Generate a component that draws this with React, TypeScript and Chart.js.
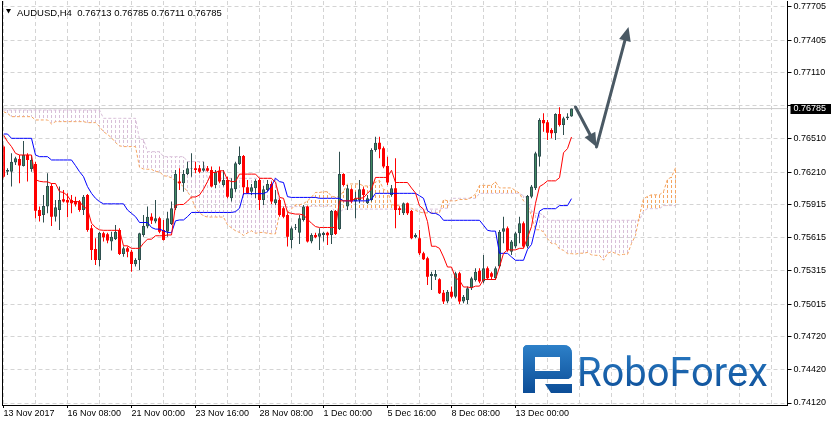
import React, { useEffect, useRef } from 'react';
import { Chart, registerables } from 'chart.js';

Chart.register(...registerables);

// ---------- data (AUDUSD H4) ----------
const OPEN = [
  0.76441, 0.76214, 0.76214, 0.76296, 0.76329, 0.76266, 0.76365, 0.76239, 0.76284, 0.75867,
  0.75822, 0.75898, 0.76085, 0.75807, 0.75867, 0.75964, 0.75958, 0.75958, 0.75949, 0.75943,
  0.75867, 0.76003, 0.75702, 0.75515, 0.75415, 0.75656, 0.75647, 0.75581, 0.75602, 0.75687,
  0.75469, 0.75521, 0.75490, 0.75376, 0.75415, 0.75641, 0.75717, 0.75807, 0.75762, 0.75792,
  0.75687, 0.75671, 0.75741, 0.75883, 0.76124, 0.76109, 0.76193, 0.76243, 0.76245, 0.76245,
  0.76223, 0.76245, 0.76229, 0.76094, 0.76223, 0.76094, 0.76139, 0.75973, 0.76055, 0.76284,
  0.76356, 0.76073, 0.76033, 0.76064, 0.76139, 0.75958, 0.76048, 0.76103, 0.75928, 0.75958,
  0.75883, 0.75822, 0.75596, 0.75705, 0.75662, 0.75777, 0.75898, 0.75581, 0.75641, 0.75626,
  0.75641, 0.75662, 0.75641, 0.75858, 0.75693, 0.76193, 0.75898, 0.76055, 0.75943, 0.75958,
  0.76055, 0.75928, 0.75958, 0.76410, 0.76477, 0.76426, 0.76266, 0.76003, 0.76064, 0.75883,
  0.75837, 0.75928, 0.75858, 0.75620, 0.75611, 0.75475, 0.75430, 0.75270, 0.75264, 0.75240,
  0.75119, 0.75038, 0.75128, 0.75083, 0.75294, 0.75038, 0.75053, 0.75159, 0.75234, 0.75318,
  0.75219, 0.75340, 0.75294, 0.75249, 0.75355, 0.75671, 0.75702, 0.75490, 0.75536, 0.75656,
  0.75747, 0.75536, 0.75988, 0.76064, 0.76350, 0.76682, 0.76661, 0.76591, 0.76561, 0.76736,
  0.76637, 0.76697, 0.76713,
];
const HIGH = [
  0.76456, 0.76245, 0.76380, 0.76350, 0.76365, 0.76492, 0.76380, 0.76365, 0.76305, 0.75898,
  0.76003, 0.76199, 0.76109, 0.75958, 0.76079, 0.76048, 0.76018, 0.76003, 0.75988, 0.75958,
  0.76003, 0.76012, 0.75732, 0.75611, 0.75671, 0.75671, 0.75662, 0.75671, 0.75732, 0.75702,
  0.75536, 0.75536, 0.75506, 0.75430, 0.75662, 0.75822, 0.75898, 0.75837, 0.75958, 0.75807,
  0.75777, 0.75852, 0.75943, 0.76229, 0.76245, 0.76229, 0.76305, 0.76380, 0.76305, 0.76275,
  0.76305, 0.76266, 0.76260, 0.76229, 0.76260, 0.76229, 0.76169, 0.76154, 0.76305, 0.76441,
  0.76365, 0.76139, 0.76103, 0.76145, 0.76154, 0.76085, 0.76139, 0.76124, 0.76048, 0.75973,
  0.75898, 0.75837, 0.75717, 0.75741, 0.75822, 0.75913, 0.75904, 0.75656, 0.75662, 0.75702,
  0.75671, 0.75671, 0.75867, 0.75867, 0.76395, 0.76199, 0.76094, 0.76064, 0.76033, 0.76139,
  0.76073, 0.76003, 0.76426, 0.76531, 0.76531, 0.76441, 0.76350, 0.76094, 0.76335, 0.75898,
  0.75934, 0.75934, 0.75867, 0.75656, 0.75687, 0.75490, 0.75445, 0.75309, 0.75325, 0.75249,
  0.75144, 0.75144, 0.75174, 0.75309, 0.75309, 0.75098, 0.75174, 0.75264, 0.75340, 0.75340,
  0.75460, 0.75355, 0.75309, 0.75355, 0.75687, 0.75807, 0.75717, 0.75596, 0.75671, 0.75807,
  0.75762, 0.76003, 0.76094, 0.76395, 0.76697, 0.76742, 0.76682, 0.76607, 0.76742, 0.76797,
  0.76712, 0.76742, 0.76785,
];
const LOW = [
  0.76154, 0.76184, 0.76079, 0.76275, 0.76109, 0.76260, 0.76124, 0.76214, 0.75792, 0.75762,
  0.75753, 0.75837, 0.75723, 0.75762, 0.75687, 0.75934, 0.75801, 0.75837, 0.75898, 0.75852,
  0.75822, 0.75671, 0.75415, 0.75370, 0.75355, 0.75581, 0.75566, 0.75500, 0.75596, 0.75460,
  0.75445, 0.75439, 0.75309, 0.75355, 0.75325, 0.75626, 0.75702, 0.75741, 0.75747, 0.75656,
  0.75590, 0.75626, 0.75732, 0.75867, 0.76048, 0.76033, 0.76184, 0.76169, 0.76199, 0.76199,
  0.76214, 0.76214, 0.76073, 0.76064, 0.76109, 0.76079, 0.75973, 0.75943, 0.76033, 0.76275,
  0.76003, 0.76012, 0.76003, 0.75973, 0.75867, 0.75913, 0.76033, 0.75922, 0.75913, 0.75807,
  0.75792, 0.75536, 0.75521, 0.75687, 0.75560, 0.75762, 0.75572, 0.75566, 0.75611, 0.75506,
  0.75581, 0.75551, 0.75560, 0.75641, 0.75687, 0.76079, 0.75867, 0.75928, 0.75792, 0.75928,
  0.75958, 0.75922, 0.75943, 0.76395, 0.76335, 0.76245, 0.76094, 0.75988, 0.75702, 0.75822,
  0.75822, 0.75822, 0.75602, 0.75611, 0.75460, 0.75415, 0.75189, 0.75144, 0.75234, 0.75107,
  0.75017, 0.75023, 0.75068, 0.75068, 0.75017, 0.75023, 0.75017, 0.75144, 0.75219, 0.75204,
  0.75204, 0.75234, 0.75234, 0.75234, 0.75340, 0.75566, 0.75490, 0.75460, 0.75521, 0.75566,
  0.75521, 0.75521, 0.75973, 0.76048, 0.76260, 0.76576, 0.76501, 0.76516, 0.76501, 0.76622,
  0.76546, 0.76682, 0.76711,
];
const CLOSE = [
  0.76169, 0.76229, 0.76305, 0.76335, 0.76269, 0.76365, 0.76320, 0.76320, 0.75861, 0.75813,
  0.75904, 0.76085, 0.75807, 0.75892, 0.75958, 0.75943, 0.75934, 0.75928, 0.75919, 0.75867,
  0.75988, 0.75687, 0.75506, 0.75415, 0.75662, 0.75620, 0.75590, 0.75626, 0.75671, 0.75469,
  0.75521, 0.75490, 0.75379, 0.75415, 0.75656, 0.75723, 0.75807, 0.75771, 0.75792, 0.75671,
  0.75596, 0.75792, 0.75883, 0.76193, 0.76109, 0.76193, 0.76245, 0.76247, 0.76229, 0.76214,
  0.76245, 0.76223, 0.76079, 0.76214, 0.76124, 0.76139, 0.75988, 0.76064, 0.76290, 0.76356,
  0.76073, 0.76018, 0.76073, 0.76133, 0.75958, 0.76055, 0.76103, 0.75943, 0.75964, 0.75822,
  0.75807, 0.75626, 0.75702, 0.75711, 0.75792, 0.75898, 0.75581, 0.75641, 0.75620, 0.75656,
  0.75662, 0.75638, 0.75858, 0.75650, 0.76193, 0.76094, 0.76064, 0.75943, 0.75973, 0.76055,
  0.76003, 0.75973, 0.76410, 0.76477, 0.76416, 0.76260, 0.76115, 0.76064, 0.75867, 0.75867,
  0.75928, 0.75837, 0.75611, 0.75641, 0.75475, 0.75421, 0.75264, 0.75288, 0.75288, 0.75113,
  0.75038, 0.75128, 0.75083, 0.75294, 0.75038, 0.75083, 0.75159, 0.75249, 0.75309, 0.75219,
  0.75340, 0.75249, 0.75264, 0.75340, 0.75671, 0.75702, 0.75506, 0.75581, 0.75656, 0.75747,
  0.75536, 0.75994, 0.76079, 0.76380, 0.76682, 0.76652, 0.76567, 0.76561, 0.76736, 0.76637,
  0.76697, 0.76713, 0.76785,
];
const TENKAN = [
  0.76546, 0.76486, 0.76441, 0.76380, 0.76365, 0.76365, 0.76365, 0.76365, 0.76142, 0.76127,
  0.76122, 0.76122, 0.76107, 0.76107, 0.76033, 0.76026, 0.75996, 0.75943, 0.75943, 0.75943,
  0.75898, 0.75875, 0.75747, 0.75709, 0.75687, 0.75683, 0.75683, 0.75683, 0.75683, 0.75683,
  0.75543, 0.75543, 0.75520, 0.75520, 0.75520, 0.75566, 0.75603, 0.75603, 0.75634, 0.75634,
  0.75634, 0.75641, 0.75641, 0.75910, 0.75917, 0.75917, 0.75947, 0.75985, 0.75985, 0.76003,
  0.76056, 0.76124, 0.76207, 0.76207, 0.76222, 0.76222, 0.76139, 0.76124, 0.76124, 0.76192,
  0.76192, 0.76192, 0.76192, 0.76192, 0.76154, 0.76154, 0.76154, 0.76154, 0.76116, 0.75981,
  0.75973, 0.75845, 0.75837, 0.75830, 0.75830, 0.75822, 0.75784, 0.75747, 0.75717, 0.75709,
  0.75709, 0.75709, 0.75709, 0.75709, 0.75950, 0.75950, 0.75950, 0.75950, 0.75973, 0.75973,
  0.75978, 0.76018, 0.76056, 0.76162, 0.76162, 0.76162, 0.76162, 0.76227, 0.76116, 0.76116,
  0.76116, 0.76116, 0.76066, 0.76021, 0.75905, 0.75875, 0.75762, 0.75539, 0.75539, 0.75520,
  0.75442, 0.75351, 0.75351, 0.75253, 0.75231, 0.75170, 0.75170, 0.75163, 0.75178, 0.75178,
  0.75238, 0.75238, 0.75238, 0.75238, 0.75351, 0.75475, 0.75506, 0.75506, 0.75506, 0.75520,
  0.75520, 0.75618, 0.75717, 0.75928, 0.76079, 0.76101, 0.76131, 0.76131, 0.76131, 0.76159,
  0.76385, 0.76423, 0.76528,
];
const KIJUN = [
  0.76555, 0.76555, 0.76516, 0.76516, 0.76516, 0.76516, 0.76516, 0.76516, 0.76365, 0.76350,
  0.76350, 0.76350, 0.76320, 0.76320, 0.76320, 0.76320, 0.76320, 0.76320, 0.76269, 0.76214,
  0.76169, 0.76079, 0.76018, 0.75973, 0.75943, 0.75923, 0.75923, 0.75923, 0.75923, 0.75923,
  0.75923, 0.75867, 0.75837, 0.75807, 0.75754, 0.75754, 0.75754, 0.75709, 0.75694, 0.75694,
  0.75679, 0.75664, 0.75661, 0.75769, 0.75777, 0.75777, 0.75807, 0.75845, 0.75845, 0.75845,
  0.75845, 0.75845, 0.75845, 0.75845, 0.75845, 0.75845, 0.75845, 0.75845, 0.75852, 0.75883,
  0.76015, 0.76015, 0.76015, 0.76015, 0.76015, 0.76015, 0.76033, 0.76086, 0.76154, 0.76124,
  0.76116, 0.75988, 0.75981, 0.75981, 0.75981, 0.75981, 0.75981, 0.75981, 0.75981, 0.75973,
  0.75973, 0.75973, 0.75973, 0.75973, 0.75973, 0.75950, 0.75950, 0.75950, 0.75950, 0.75950,
  0.75950, 0.75950, 0.75965, 0.76018, 0.76018, 0.76018, 0.76018, 0.76018, 0.76018, 0.76018,
  0.76018, 0.76018, 0.76018, 0.76018, 0.75996, 0.75973, 0.75860, 0.75837, 0.75837, 0.75819,
  0.75774, 0.75774, 0.75774, 0.75774, 0.75774, 0.75774, 0.75774, 0.75774, 0.75774, 0.75774,
  0.75729, 0.75683, 0.75676, 0.75676, 0.75475, 0.75475, 0.75475, 0.75442, 0.75412, 0.75412,
  0.75412, 0.75510, 0.75555, 0.75706, 0.75857, 0.75879, 0.75879, 0.75879, 0.75879, 0.75907,
  0.75907, 0.75907, 0.75970,
];
const SPAN_A = [
  0.76757, 0.76742, 0.76712, 0.76712, 0.76712, 0.76712, 0.76712, 0.76712, 0.76682, 0.76682,
  0.76682, 0.76682, 0.76646, 0.76667, 0.76667, 0.76667, 0.76667, 0.76667, 0.76667, 0.76667,
  0.76667, 0.76658, 0.76658, 0.76658, 0.76622, 0.76576, 0.76551, 0.76521, 0.76478, 0.76448,
  0.76441, 0.76441, 0.76441, 0.76441, 0.76254, 0.76238, 0.76236, 0.76236, 0.76214, 0.76214,
  0.76177, 0.76173, 0.76158, 0.76131, 0.76106, 0.76079, 0.76033, 0.75977, 0.75883, 0.75841,
  0.75815, 0.75803, 0.75803, 0.75803, 0.75803, 0.75803, 0.75733, 0.75705, 0.75679, 0.75664,
  0.75637, 0.75660, 0.75679, 0.75656, 0.75664, 0.75664, 0.75656, 0.75652, 0.75651, 0.75839,
  0.75847, 0.75847, 0.75877, 0.75915, 0.75915, 0.75924, 0.75950, 0.75984, 0.76026, 0.76026,
  0.76033, 0.76033, 0.75992, 0.75984, 0.75988, 0.76037, 0.76103, 0.76103, 0.76103, 0.76103,
  0.76085, 0.76085, 0.76094, 0.76120, 0.76135, 0.76052, 0.76045, 0.75916, 0.75909, 0.75905,
  0.75905, 0.75901, 0.75883, 0.75864, 0.75849, 0.75841, 0.75841, 0.75841, 0.75841, 0.75841,
  0.75962, 0.75950, 0.75950, 0.75950, 0.75962, 0.75962, 0.75964, 0.75984, 0.76011, 0.76090,
  0.76090, 0.76090, 0.76090, 0.76122, 0.76067, 0.76067, 0.76067, 0.76067, 0.76042, 0.76020,
  0.75950, 0.75924, 0.75811, 0.75688, 0.75688, 0.75670, 0.75608, 0.75563, 0.75563, 0.75514,
  0.75502, 0.75472, 0.75472, 0.75468, 0.75476, 0.75476, 0.75483, 0.75461, 0.75457, 0.75457,
  0.75413, 0.75475, 0.75490, 0.75474, 0.75459, 0.75466, 0.75466, 0.75564, 0.75636, 0.75817,
  0.75968, 0.75990, 0.76005, 0.76005, 0.76005, 0.76033, 0.76146, 0.76165, 0.76249,
];
const SPAN_B = [
  0.76772, 0.76772, 0.76772, 0.76772, 0.76772, 0.76772, 0.76772, 0.76772, 0.76772, 0.76772,
  0.76772, 0.76772, 0.76772, 0.76772, 0.76772, 0.76772, 0.76772, 0.76772, 0.76772, 0.76772,
  0.76772, 0.76772, 0.76772, 0.76772, 0.76772, 0.76697, 0.76697, 0.76697, 0.76697, 0.76697,
  0.76697, 0.76697, 0.76697, 0.76697, 0.76507, 0.76507, 0.76395, 0.76395, 0.76395, 0.76395,
  0.76350, 0.76350, 0.76350, 0.76350, 0.76350, 0.76350, 0.76305, 0.76305, 0.76305, 0.76305,
  0.76305, 0.76154, 0.76154, 0.76154, 0.76154, 0.76154, 0.76154, 0.76154, 0.76154, 0.76154,
  0.76154, 0.76154, 0.76154, 0.76154, 0.76154, 0.76154, 0.76154, 0.76154, 0.76154, 0.75898,
  0.75898, 0.75898, 0.75898, 0.75898, 0.75898, 0.75898, 0.75898, 0.75901, 0.75901, 0.75901,
  0.75901, 0.75901, 0.75901, 0.75845, 0.75845, 0.75875, 0.75875, 0.75875, 0.75875, 0.75875,
  0.75875, 0.75875, 0.75875, 0.75875, 0.75875, 0.75875, 0.75875, 0.75875, 0.75875, 0.75875,
  0.75875, 0.75875, 0.75875, 0.75875, 0.75875, 0.75875, 0.75875, 0.75875, 0.75875, 0.75875,
  0.75883, 0.75883, 0.75973, 0.75973, 0.75973, 0.75973, 0.75973, 0.75973, 0.75973, 0.76018,
  0.76018, 0.76018, 0.76018, 0.76018, 0.76018, 0.76018, 0.76018, 0.76018, 0.76018, 0.76018,
  0.75996, 0.75973, 0.75860, 0.75837, 0.75837, 0.75819, 0.75774, 0.75774, 0.75774, 0.75774,
  0.75774, 0.75774, 0.75774, 0.75774, 0.75774, 0.75774, 0.75774, 0.75774, 0.75774, 0.75774,
  0.75774, 0.75774, 0.75774, 0.75774, 0.75774, 0.75774, 0.75774, 0.75774, 0.75774, 0.75774,
  0.75857, 0.75879, 0.75879, 0.75879, 0.75879, 0.75907, 0.75907, 0.75907, 0.75907,
];
const Y_TICKS = [
  0.77705, 0.77405, 0.7711, 0.7681, 0.7651, 0.7621, 0.75915, 0.75615, 0.75315, 0.75015,
  0.7472, 0.7442, 0.7412,
];
const X_LABELS = [
  '13 Nov 2017', '16 Nov 08:00', '21 Nov 00:00', '23 Nov 16:00', '28 Nov 08:00',
  '1 Dec 00:00', '5 Dec 16:00', '8 Dec 08:00', '13 Dec 00:00',
];
const X_LABEL_EVERY = 16; // bars between time labels
const X_GRID_EVERY = 8; // bars between vertical grid lines
const X_SLOTS = 196; // visible bar slots
const Y_MIN = 0.74102;
const Y_MAX = 0.77759;
const LAST_PRICE = 0.76785;
const HIDDEN_TICK = 0.7681;
const HEADER = 'AUDUSD,H4  0.76713 0.76785 0.76711 0.76785';
// forecast arrow: [bar index, price]
const ARROW_POINTS = [
  [143, 0.768],
  [148.25, 0.76438],
  [156.25, 0.77524],
];
const LOGO_TEXT = 'RoboForex';

const FONT = '"Liberation Sans", Arial, sans-serif';
const GRID = '#d4d4d4';
const UP_FILL = '#3f8a62';
const UP_EDGE = '#2f4f4f';
const DOWN = '#ff0000';
const SAND = '#f4a460';
const THISTLE = '#d8bfd8';
const ARROW = '#4a5964';

function hatch(ctx: CanvasRenderingContext2D, color: string) {
  const c = document.createElement('canvas');
  c.width = 1;
  c.height = 5;
  const g = c.getContext('2d')!;
  g.fillStyle = color;
  g.fillRect(0, 0, 1, 3);
  return ctx.createPattern(c, 'repeat')!;
}

function roundRectPath(ctx: CanvasRenderingContext2D, x: number, y: number, w: number, h: number, r: [number, number, number, number]) {
  ctx.beginPath();
  ctx.moveTo(x + r[0], y);
  ctx.lineTo(x + w - r[1], y);
  ctx.quadraticCurveTo(x + w, y, x + w, y + r[1]);
  ctx.lineTo(x + w, y + h - r[2]);
  ctx.quadraticCurveTo(x + w, y + h, x + w - r[2], y + h);
  ctx.lineTo(x + r[3], y + h);
  ctx.quadraticCurveTo(x, y + h, x, y + h - r[3]);
  ctx.lineTo(x, y + r[0]);
  ctx.quadraticCurveTo(x, y, x + r[0], y);
  ctx.closePath();
}

function drawLogo(ctx: CanvasRenderingContext2D) {
  ctx.save();
  const grad = ctx.createLinearGradient(0, 345, 0, 394);
  grad.addColorStop(0, '#2d80c8');
  grad.addColorStop(1, '#0b4c96');
  ctx.fillStyle = grad;
  // icon
  roundRectPath(ctx, 523, 345, 12, 48, [5, 0, 0, 0]);
  ctx.fill();
  roundRectPath(ctx, 523, 345, 49, 12, [5, 9, 0, 0]);
  ctx.fill();
  roundRectPath(ctx, 560, 345, 12, 34, [0, 9, 6, 0]);
  ctx.fill();
  roundRectPath(ctx, 535, 371, 37, 8, [0, 0, 6, 0]);
  ctx.fill();
  ctx.beginPath();
  ctx.moveTo(545, 384);
  ctx.lineTo(572, 384);
  ctx.lineTo(572, 393);
  ctx.lineTo(551, 393);
  ctx.closePath();
  ctx.fill();
  // word mark
  ctx.font = '40px Roboto';
  const w = ctx.measureText(LOGO_TEXT).width;
  const size = (40 * 191) / w;
  ctx.font = `${size}px Roboto`;
  ctx.textBaseline = 'alphabetic';
  ctx.textAlign = 'left';
  ctx.fillText(LOGO_TEXT, 577, 386);
  ctx.restore();
}

function arrowSeg(ctx: CanvasRenderingContext2D, ax: number, ay: number, bx: number, by: number) {
  const dx = bx - ax;
  const dy = by - ay;
  const len = Math.hypot(dx, dy);
  const ux = dx / len;
  const uy = dy / len;
  const hl = 14;
  const hw = 6;
  const baseX = bx - ux * hl;
  const baseY = by - uy * hl;
  ctx.beginPath();
  ctx.moveTo(ax, ay);
  ctx.lineTo(baseX + ux * 2, baseY + uy * 2);
  ctx.stroke();
  ctx.beginPath();
  ctx.moveTo(bx, by);
  ctx.lineTo(baseX - uy * hw, baseY + ux * hw);
  ctx.lineTo(baseX + uy * hw, baseY - ux * hw);
  ctx.closePath();
  ctx.fill();
}

const overlayPlugin = {
  id: 'overlay',
  beforeDatasetsDraw(chart: any) {
    drawLogo(chart.ctx);
  },
  afterDatasetsDraw(chart: any) {
    const { ctx, scales } = chart;
    const pts = ARROW_POINTS.map(([i, p]) => [scales.x.getPixelForValue(i), scales.y.getPixelForValue(p)]);
    ctx.save();
    ctx.strokeStyle = ARROW;
    ctx.fillStyle = ARROW;
    ctx.lineWidth = 3;
    ctx.lineCap = 'round';
    for (let k = 0; k < pts.length - 1; k++) {
      arrowSeg(ctx, pts[k][0], pts[k][1], pts[k + 1][0], pts[k + 1][1]);
    }
    ctx.restore();
  },
  afterDraw(chart: any) {
    const { ctx, chartArea, scales } = chart;
    ctx.save();
    // left frame line
    ctx.fillStyle = '#000';
    ctx.fillRect(Math.round(chartArea.left) - 2, Math.round(chartArea.top), 1, Math.round(chartArea.bottom - chartArea.top) + 1);
    // header
    ctx.beginPath();
    ctx.moveTo(6, 9);
    ctx.lineTo(11, 9);
    ctx.lineTo(8.5, 13.5);
    ctx.closePath();
    ctx.fill();
    ctx.font = `9.5px ${FONT}`;
    ctx.textBaseline = 'alphabetic';
    ctx.textAlign = 'left';
    ctx.fillText(HEADER, 17, 16);
    // last price label
    const py = scales.y.getPixelForValue(LAST_PRICE);
    ctx.fillStyle = '#000';
    ctx.fillRect(chartArea.right + 3, Math.round(py) - 5, 831 - chartArea.right - 3, 10);
    ctx.fillStyle = '#fff';
    ctx.font = `9px ${FONT}`;
    ctx.textBaseline = 'middle';
    ctx.fillText(LAST_PRICE.toFixed(5), chartArea.right + 6, Math.round(py));
    ctx.restore();
  },
};

export default function App() {
  const ref = useRef<HTMLCanvasElement | null>(null);

  useEffect(() => {
    document.body.style.margin = '0';
    const canvas = ref.current!;
    const ctx = canvas.getContext('2d')!;
    const sandPat = hatch(ctx, SAND);
    const thistlePat = hatch(ctx, THISTLE);
    const up = OPEN.map((o, i) => CLOSE[i] >= o);

    const chart = new Chart(canvas, {
      type: 'bar',
      data: {
        datasets: [
          {
            type: 'line',
            label: 'Tenkan-sen',
            order: 0,
            data: TENKAN.map((v, i) => ({ x: i, y: v })),
            borderColor: '#ff0000',
            borderWidth: 1,
            pointRadius: 0,
            tension: 0,
          },
          {
            type: 'line',
            label: 'Kijun-sen',
            order: 1,
            data: KIJUN.map((v, i) => ({ x: i, y: v })),
            borderColor: '#0000ff',
            borderWidth: 1,
            pointRadius: 0,
            tension: 0,
          },
          {
            type: 'bar',
            label: 'body',
            order: 3,
            data: OPEN.map((o, i) => ({ x: i, y: [o, CLOSE[i]] })),
            backgroundColor: up.map((u) => (u ? UP_FILL : DOWN)),
            borderColor: up.map((u) => (u ? UP_EDGE : DOWN)),
            borderWidth: up.map((u) => (u ? 1 : 0)),
            borderSkipped: false,
            barThickness: 3,
            grouped: false,
            inflateAmount: 0,
          },
          {
            type: 'bar',
            label: 'wick',
            order: 4,
            data: HIGH.map((h, i) => ({ x: i, y: [LOW[i], h] })),
            backgroundColor: up.map((u) => (u ? UP_EDGE : DOWN)),
            borderWidth: 0,
            barThickness: 1,
            grouped: false,
            inflateAmount: 0,
          },
          {
            type: 'line',
            label: 'Senkou Span A',
            order: 5,
            data: SPAN_A.map((v, i) => ({ x: i, y: v })),
            borderColor: SAND,
            borderWidth: 1,
            borderDash: [3, 2],
            pointRadius: 0,
            tension: 0,
          },
          {
            type: 'line',
            label: 'Senkou Span B',
            order: 6,
            data: SPAN_B.map((v, i) => ({ x: i, y: v })),
            borderColor: THISTLE,
            borderWidth: 1,
            borderDash: [3, 2],
            pointRadius: 0,
            tension: 0,
          },
          {
            type: 'bar',
            label: 'kumo',
            order: 7,
            data: SPAN_A.map((a, i) => ({ x: i, y: [a, SPAN_B[i]] })),
            backgroundColor: SPAN_A.map((a, i) => (a >= SPAN_B[i] ? sandPat : thistlePat)),
            borderWidth: 0,
            barThickness: 1,
            grouped: false,
            inflateAmount: 0,
          },
          {
            type: 'line',
            label: 'last',
            order: 8,
            data: [
              { x: 0, y: LAST_PRICE },
              { x: X_SLOTS, y: LAST_PRICE },
            ],
            borderColor: '#c8c8c8',
            borderWidth: 1,
            pointRadius: 0,
          },
        ] as any,
      },
      options: {
        responsive: false,
        animation: false,
        devicePixelRatio: 1,
        events: [],
        layout: { padding: { left: 3.5, top: 1, right: 0, bottom: 0 }, autoPadding: false },
        plugins: { legend: { display: false }, tooltip: { enabled: false } },
        scales: {
          x: {
            type: 'linear',
            min: 0,
            max: X_SLOTS,
            offset: false,
            afterBuildTicks: (s: any) => {
              const t = [];
              for (let v = 0; v < X_SLOTS; v += X_GRID_EVERY) t.push({ value: v });
              s.ticks = t;
            },
            afterFit: (s: any) => {
              s.height = 21;
              s.paddingLeft = 0;
              s.paddingRight = 0;
            },
            ticks: {
              autoSkip: false,
              maxRotation: 0,
              minRotation: 0,
              align: 'start',
              padding: 0,
              color: '#000',
              font: { family: FONT, size: 9 },
              callback: (v: any) => {
                const k = v / X_LABEL_EVERY;
                return Number.isInteger(k) && k < X_LABELS.length ? X_LABELS[k] : '';
              },
            },
            grid: {
              color: GRID,
              offset: false,
              tickLength: 3,
              tickColor: (c: any) =>
                c.tick && c.tick.value % X_LABEL_EVERY === 0 && c.tick.value / X_LABEL_EVERY < X_LABELS.length
                  ? '#000'
                  : 'rgba(0,0,0,0)',
            },
            border: { display: true, color: '#000', width: 1, dash: [4, 3] },
          },
          y: {
            type: 'linear',
            position: 'right',
            min: Y_MIN,
            max: Y_MAX,
            afterBuildTicks: (s: any) => {
              s.ticks = Y_TICKS.map((v) => ({ value: v }));
            },
            afterFit: (s: any) => {
              s.width = 43.5;
              s.paddingTop = 0;
              s.paddingBottom = 0;
            },
            ticks: {
              autoSkip: false,
              padding: 2,
              crossAlign: 'near',
              color: '#000',
              font: { family: FONT, size: 9 },
              callback: (v: any) => (Math.abs(v - HIDDEN_TICK) < 1e-7 ? '' : Number(v).toFixed(5)),
            },
            grid: { color: GRID, tickLength: 4, tickColor: '#000' },
            border: { display: true, color: '#000', width: 1, dash: [4, 3] },
          },
        },
      } as any,
      plugins: [overlayPlugin],
    });
    return () => chart.destroy();
  }, []);

  return (
    <div style={{ width: 831, height: 426, position: 'relative', background: '#fff' }}>
      <canvas ref={ref} width={831} height={426} style={{ display: 'block', width: 831, height: 426 }} />
    </div>
  );
}
